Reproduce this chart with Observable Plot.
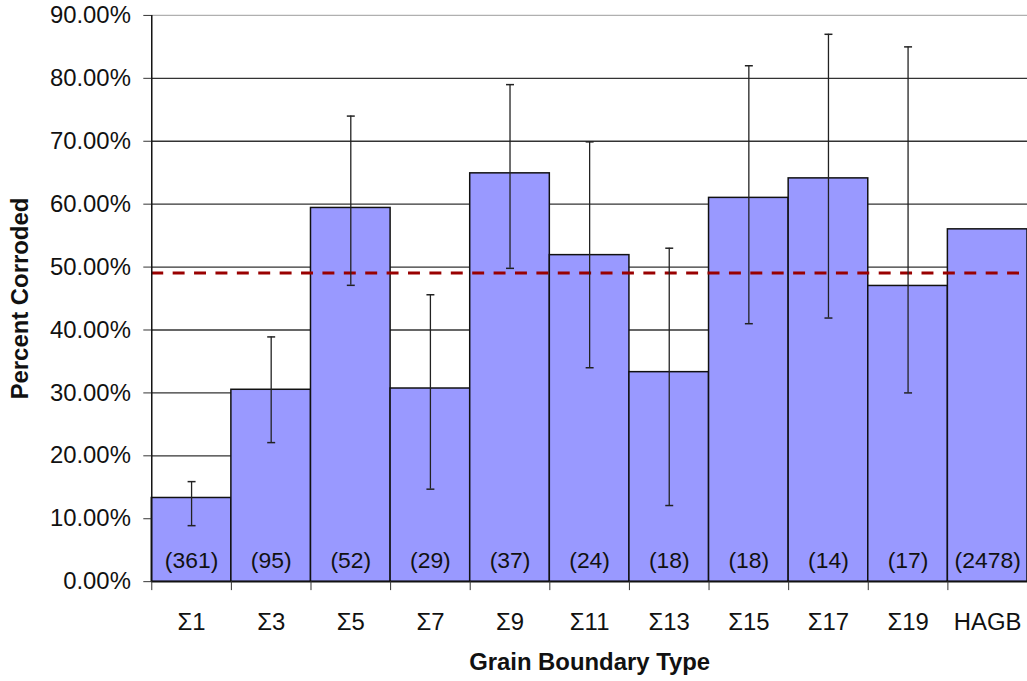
<!DOCTYPE html>
<html><head><meta charset="utf-8">
<script src="https://cdn.jsdelivr.net/npm/d3@7"></script>
<script src="https://cdn.jsdelivr.net/npm/@observablehq/plot@0.6"></script>
<style>html,body{margin:0;padding:0;overflow:hidden;background:#fff;}</style>
</head><body><div id="chart"></div>
<script>
const categories = ["Σ1","Σ3","Σ5","Σ7","Σ9","Σ11","Σ13","Σ15","Σ17","Σ19","HAGB"];
const percentCorroded = [0.133,0.305,0.594,0.307,0.649,0.519,0.333,0.610,0.641,0.470,0.560];
const errorLow  = [0.089,0.221,0.471,0.147,0.498,0.340,0.121,0.410,0.419,0.300,null];
const errorHigh = [0.159,0.389,0.740,0.456,0.790,0.699,0.530,0.820,0.870,0.850,null];
const counts = ["(361)","(95)","(52)","(29)","(37)","(24)","(18)","(18)","(14)","(17)","(2478)"];
const overallAverage = 0.4905;
const yTicks = [0,0.1,0.2,0.3,0.4,0.5,0.6,0.7,0.8,0.9];
const xTitle = "Grain Boundary Type";
const yTitle = "Percent Corroded";

const data = categories.map((c, i) => ({i, category: c, value: percentCorroded[i], lo: errorLow[i], hi: errorHigh[i], count: counts[i]}));
const errData = data.filter(d => d.lo != null);
const centers = data.map(d => d.i + 0.5);
const boundaries = data.map(d => d.i).concat([categories.length]);
const capSymbol = {draw(ctx, size) { const r = Math.sqrt(size / Math.PI); ctx.moveTo(-r, 0); ctx.lineTo(r, 0); }};

const chart = Plot.plot({
  width: 1032,
  height: 681,
  marginLeft: 152,
  marginRight: 0,
  marginTop: 15,
  marginBottom: 97,
  style: {fontFamily: "'Liberation Sans', Arial, sans-serif", fontSize: "24px", background: "#fff", overflow: "visible"},
  x: {domain: [0, categories.length]},
  y: {domain: [0, 0.9]},
  marks: [
    Plot.gridY(yTicks.filter(t => t > 0 && t < 0.9), {stroke: "#333", strokeOpacity: 1, strokeWidth: 1.3}),
    Plot.gridY(yTicks.filter(t => t >= 0.9), {stroke: "#b0b0b0", strokeOpacity: 1, strokeWidth: 1.3}),
    Plot.rectY(data, {x1: d => d.i, x2: d => d.i + 1, y: "value", fill: "#9999ff", stroke: "#111", strokeWidth: 1.5}),
    Plot.ruleY([overallAverage], {stroke: "#990000", strokeWidth: 3, strokeDasharray: "12,9.5"}),
    Plot.ruleX(errData, {x: d => d.i + 0.5, y1: "lo", y2: "hi", stroke: "#222", strokeWidth: 1.3}),
    Plot.dot(errData, {x: d => d.i + 0.5, y: "hi", symbol: capSymbol, r: 4, stroke: "#222", strokeWidth: 1.5, fill: "none"}),
    Plot.dot(errData, {x: d => d.i + 0.5, y: "lo", symbol: capSymbol, r: 4, stroke: "#222", strokeWidth: 1.5, fill: "none"}),
    Plot.text(data, {x: d => d.i + 0.5, y: 0, text: "count", dy: -21, fontSize: 23, fill: "#111"}),
    Plot.ruleY([0], {stroke: "#111", strokeWidth: 1.5}),
    Plot.ruleX([0], {stroke: "#111", strokeWidth: 1.5}),
    Plot.axisY(yTicks, {tickFormat: d3.format(".2%"), tickSize: 8, tickPadding: 13, fontSize: 24, stroke: "#333", fill: "#111", label: null}),
    Plot.axisX(boundaries, {tickFormat: () => "", tickSize: 9, stroke: "#333", label: null}),
    Plot.axisX(centers, {tickFormat: v => categories[Math.round(v - 0.5)], tickSize: 0, tickPadding: 32, fontSize: 24, fill: "#111", label: null}),
    Plot.text([yTitle], {frameAnchor: "left", textAnchor: "middle", lineAnchor: "middle", dx: -132, rotate: -90, fontSize: 24, fontWeight: "bold", fill: "#111"}),
    Plot.text([xTitle], {frameAnchor: "bottom", textAnchor: "middle", lineAnchor: "middle", dy: 81, fontSize: 24, fontWeight: "bold", fill: "#111"})
  ]
});
document.getElementById("chart").appendChild(chart);
</script>
</body></html>
